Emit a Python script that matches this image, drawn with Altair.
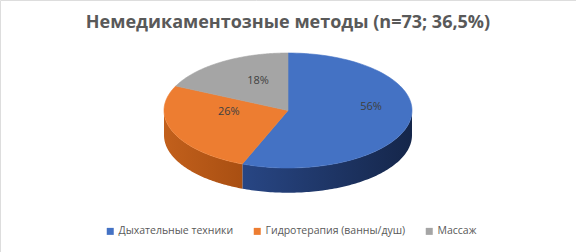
import altair as alt
import pandas as pd

title_text = "Немедикаментозные методы (n=73; 36,5%)"
categories = ["Дыхательные техники", "Гидротерапия (ванны/душ)", "Массаж"]
values = [56, 26, 18]
labels = ["56%", "26%", "18%"]
colors = ["#4472C4", "#ED7D31", "#A5A5A5"]

df = pd.DataFrame({"cat": categories, "val": values, "label": labels, "idx": list(range(len(values)))})

DEPTH = 0.43  # thickness of the pie side, in radius units
xs = alt.Scale(domain=[-1, 1], range=[164, 412])
ys = alt.Scale(domain=[-1, 1], range=[168, 53])

base = alt.Chart(df).transform_window(
    cum="sum(val)", sort=[alt.SortField("idx")]
).transform_joinaggregate(total="sum(val)").transform_calculate(
    a0="2*PI*(datum.cum - datum.val)/datum.total",
    a1="2*PI*datum.cum/datum.total",
)


def side(idx, grad):
    return base.transform_filter(f"datum.idx == {idx}").transform_calculate(
        s0="max(datum.a0, PI/2)", s1="min(datum.a1, 3*PI/2)"
    ).transform_filter("datum.s1 > datum.s0").transform_calculate(
        t="sequence(0, 202, 1)"
    ).transform_flatten(["t"]).transform_calculate(
        u="datum.t <= 100 ? datum.t : 201 - datum.t",
        ang="datum.s0 + (datum.s1 - datum.s0) * datum.u / 100",
        px="sin(datum.ang)",
        py=f"cos(datum.ang) - (datum.t <= 100 ? 0 : {DEPTH})",
    ).mark_line(
        filled=True, interpolate="linear-closed", strokeOpacity=0, fill=grad
    ).encode(
        x=alt.X("px:Q", scale=xs, axis=None),
        y=alt.Y("py:Q", scale=ys, axis=None),
        order=alt.Order("t:Q"),
    )


blue_grad = alt.Gradient(
    gradient="linear", x1=0, x2=1, y1=0, y2=0,
    stops=[alt.GradientStop(offset=0, color="#284684"), alt.GradientStop(offset=1, color="#15264A")],
)
orange_grad = alt.Gradient(
    gradient="linear", x1=0, x2=1, y1=0, y2=0,
    stops=[alt.GradientStop(offset=0, color="#C2601C"), alt.GradientStop(offset=1, color="#A94F12")],
)

top = base.transform_calculate(
    t="sequence(-1, 101, 1)"
).transform_flatten(["t"]).transform_calculate(
    ang="datum.a0 + (datum.a1 - datum.a0) * datum.t / 100",
    px="datum.t < 0 ? 0 : sin(datum.ang)",
    py="datum.t < 0 ? 0 : cos(datum.ang)",
).mark_line(filled=True, interpolate="linear-closed", strokeWidth=0.6).encode(
    x=alt.X("px:Q", scale=xs, axis=None),
    y=alt.Y("py:Q", scale=ys, axis=None),
    color=alt.Color(
        "cat:N",
        scale=alt.Scale(domain=categories, range=colors),
        sort=categories,
        legend=alt.Legend(
            title=None, orient="none", legendX=105, legendY=226, direction="horizontal",
            symbolType="square", symbolSize=49, symbolStrokeWidth=0,
            labelFontSize=10.5, labelColor="#595959", labelFont="Open Sans",
            columnPadding=18, labelOffset=3,
        ),
    ),
    stroke=alt.Color("cat:N", scale=alt.Scale(domain=categories, range=colors), legend=None),
    order=alt.Order("t:Q"),
)

text = base.transform_calculate(
    mid="(datum.a0 + datum.a1) / 2",
    lx="0.6 * sin(datum.mid)",
    ly="0.45 * cos(datum.mid)",
).mark_text(fontSize=11, color="#404040", font="Open Sans", dx=10, dy=-8).encode(
    x=alt.X("lx:Q", scale=xs, axis=None),
    y=alt.Y("ly:Q", scale=ys, axis=None),
    text="label:N",
)

title = alt.Chart(pd.DataFrame({"t": [title_text]})).mark_text(
    fontSize=18, fontWeight="bold", color="#595959", font="Open Sans"
).encode(text="t:N", x=alt.value(288), y=alt.value(23))

chart = alt.layer(
    side(0, blue_grad), side(1, orange_grad), top, text, title
).properties(
    width=576, height=252, padding=0, autosize=alt.AutoSizeParams(type="none")
).configure_view(stroke="#D9D9D9", strokeWidth=1.5).configure(background="white")

chart.save("out.html", embed_options={"renderer": "svg", "actions": False})
